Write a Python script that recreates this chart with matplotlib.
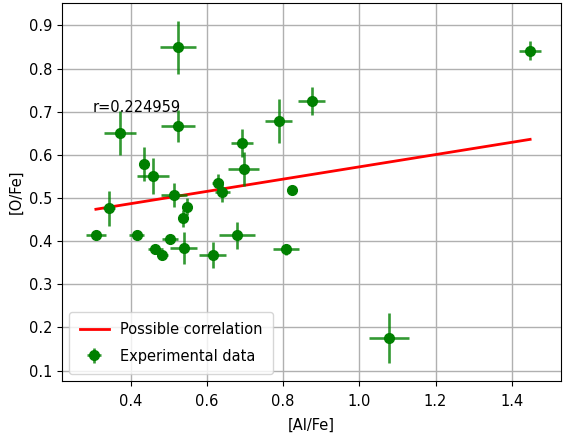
import numpy as np
import matplotlib.pyplot as plt

al_fe = [0.524, 0.372, 0.524, 0.435, 0.459, 0.692, 0.696, 0.788, 0.875,
         0.628, 0.640, 0.824, 0.513, 1.448, 0.343, 0.548, 0.538, 0.3085,
         0.416, 0.503, 0.464, 0.483, 0.539, 0.615, 0.679, 0.808, 1.078]
o_fe = [0.849, 0.650, 0.667, 0.579, 0.551, 0.627, 0.567, 0.679, 0.725,
        0.536, 0.515, 0.519, 0.507, 0.841, 0.476, 0.480, 0.453, 0.414,
        0.414, 0.404, 0.381, 0.368, 0.385, 0.368, 0.414, 0.381, 0.175]
al_err = [0.048, 0.042, 0.044, 0.012, 0.042, 0.030, 0.040, 0.036, 0.035,
          0.015, 0.020, 0.012, 0.034, 0.028, 0.015, 0.012, 0.012, 0.026,
          0.020, 0.020, 0.020, 0.015, 0.036, 0.036, 0.048, 0.034, 0.052]
o_err = [0.061, 0.051, 0.036, 0.039, 0.042, 0.032, 0.039, 0.051, 0.032,
         0.020, 0.025, 0.008, 0.028, 0.022, 0.041, 0.020, 0.020, 0.012,
         0.012, 0.010, 0.010, 0.010, 0.037, 0.029, 0.031, 0.012, 0.058]

# end points of the fitted line
fit_x = [0.3085, 1.448]
fit_y = [0.474, 0.636]
r_value = 0.224959

plt.rcParams['font.size'] = 10.5

fig = plt.figure(figsize=(5.64, 4.47), dpi=100)
ax = fig.add_axes([62 / 564, 66 / 447, 499 / 564, 378 / 447])

ax.plot(fit_x, fit_y, color='red', linewidth=2, label='Possible correlation')
ax.errorbar(al_fe, o_fe, xerr=al_err, yerr=o_err, fmt='o', color='green',
            ecolor=(0, 0.5, 0, 0.8), elinewidth=1.9, markersize=7,
            label='Experimental data')
ax.text(0.3, 0.7, 'r=%f' % r_value)

ax.set_xlim(0.2196, 1.529)
ax.set_ylim(0.076, 0.952)
ax.tick_params(axis='x', pad=6)
ax.set_xlabel('[Al/Fe]', labelpad=6)
ax.set_ylabel('[O/Fe]')
ax.grid(True, linewidth=1)
ax.legend(loc='lower left', labelspacing=0.8, borderpad=0.7)

fig.savefig('out.png', dpi=100)
